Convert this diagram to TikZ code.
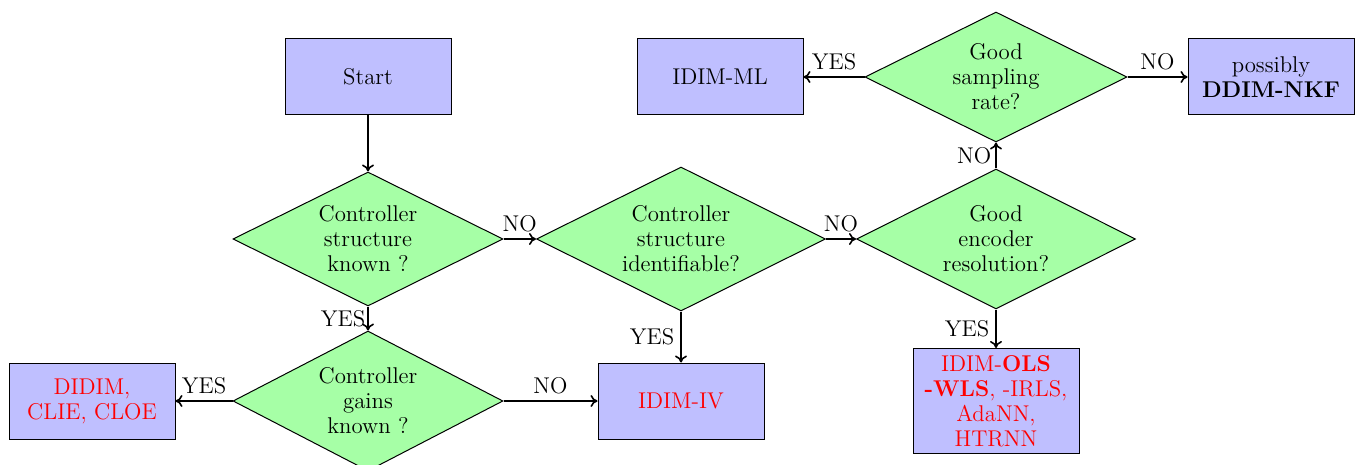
\documentclass[tikz,border=0pt]{standalone}
\usetikzlibrary{shapes.geometric,arrows.meta}
\begin{document}
\begin{tikzpicture}[x=0.5pt,y=-0.5pt,
  every node/.style={font=\fontsize{11.4}{12.5}\selectfont},
  procbox/.style={draw=black,line width=0.5pt,fill=blue!25,minimum width=83pt,minimum height=38pt,align=center,inner sep=2pt},
  decision/.style={diamond,draw=black,line width=0.5pt,fill=green!35,inner sep=0pt},
  flow/.style={line width=0.8pt,-{To[length=3.5pt,width=6pt]}},
  res/.style={text=red}]
\useasboundingbox (0,0) rectangle (1355,465);

% process boxes
\node[procbox] (start) at (368,77) {Start};
\node[procbox] (ml) at (720,77) {IDIM-ML};
\node[procbox] (nkf) at (1271,77) {possibly\\\textbf{DDIM-NKF}};
\node[procbox,res] (didim) at (92,401) {DIDIM,\\CLIE, CLOE};
\node[procbox,res] (iv) at (681,401) {IDIM-IV};
\node[procbox,res,minimum height=52.5pt] (ols) at (996,401) {IDIM-\textbf{OLS}\\\textbf{-WLS}, -IRLS,\\AdaNN,\\HTRNN};

% decisions
\node[decision,minimum width=135pt,minimum height=67pt,
  label={[align=center]center:Controller\\structure\\known ?}] (d1) at (368,239) {};
\node[decision,minimum width=135pt,minimum height=70pt,
  label={[align=center]center:Controller\\gains\\known ?}] (d2) at (368,401) {};
\node[decision,minimum width=144.5pt,minimum height=72pt,
  label={[align=center]center:Controller\\structure\\identifiable?}] (d3) at (681,239) {};
\node[decision,minimum width=139.5pt,minimum height=70pt,
  label={[align=center]center:Good\\encoder\\resolution?}] (d4) at (996,239) {};
\node[decision,minimum width=131pt,minimum height=65pt,
  label={[align=center]center:Good\\sampling\\rate?}] (d5) at (996,77) {};

% connectors
\draw[flow] (start) -- (d1);
\draw[flow] (d1.east) -- node[above,inner sep=3pt] {NO} (d3.west);
\draw[flow] (d1.south) -- node[left,inner sep=1pt] {YES} (d2.north);
\draw[flow] (d2.west) -- node[above,inner sep=3pt] {YES} (didim.east);
\draw[flow] (d2.east) -- node[above,inner sep=3pt] {NO} (iv.west);
\draw[flow] (d3.east) -- node[above,inner sep=3pt] {NO} (d4.west);
\draw[flow] (d3.south) -- node[left,inner sep=3pt] {YES} (iv.north);
\draw[flow] (d4.south) -- node[left,inner sep=3pt] {YES} (ols.north);
\draw[flow] (d4.north) -- node[left,inner sep=2pt] {NO} (d5.south);
\draw[flow] (d5.west) -- node[above,inner sep=3pt] {YES} (ml.east);
\draw[flow] (d5.east) -- node[above,inner sep=3pt] {NO} (nkf.west);
\end{tikzpicture}
\end{document}
